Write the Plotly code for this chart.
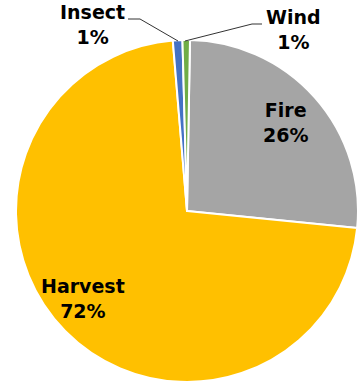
import plotly.graph_objects as go

labels = ["Fire", "Harvest", "Insect", "Wind"]
values = [26.3, 72.1, 0.9, 0.7]
colors = ["#A5A5A5", "#FFC000", "#4472C4", "#70AD47"]

W, H = 359, 383
# pie placement in pixels
cx, cy, r = 187, 211, 171

def px(x):
    return x / W

def py(y):
    return 1 - y / H

fig = go.Figure(go.Pie(
    labels=labels,
    values=values,
    sort=False,
    direction="clockwise",
    rotation=1,
    marker=dict(colors=colors, line=dict(color="white", width=2)),
    textinfo="none",
    hoverinfo="label+percent",
    domain=dict(x=[px(cx - r), px(cx + r)], y=[py(cy + r), py(cy - r)]),
    showlegend=False,
))

total = sum(values)
pct = {l: f"{max(1, round(v / total * 100)):.0f}%" for l, v in zip(labels, values)}

label_pos = {
    "Fire": (285, 122),
    "Harvest": (83, 298),
    "Insect": (93, 25),
    "Wind": (293, 30),
}

for l in labels:
    x, y = label_pos[l]
    fig.add_annotation(
        x=px(x), y=py(y), xref="paper", yref="paper",
        text=f"<b>{l}<br>{pct[l]}</b>", showarrow=False,
        font=dict(family="DejaVu Sans", size=19, color="#000000"),
        align="center", xanchor="center", yanchor="middle",
    )

# leader lines
leaders = [
    [(178, 41), (140, 19), (128, 19)],
    [(185, 41), (252, 24), (262, 24)],
]
for pts in leaders:
    path = "M " + " L ".join(f"{px(x)},{py(y)}" for x, y in pts)
    fig.add_shape(type="path", path=path, xref="paper", yref="paper",
                  line=dict(color="#333333", width=1))

fig.update_layout(
    width=W, height=H,
    margin=dict(l=0, r=0, t=0, b=0),
    paper_bgcolor="white", plot_bgcolor="white",
)

fig.write_html("out.html", config={"displayModeBar": False},
               post_script="document.body.style.margin='0';")
